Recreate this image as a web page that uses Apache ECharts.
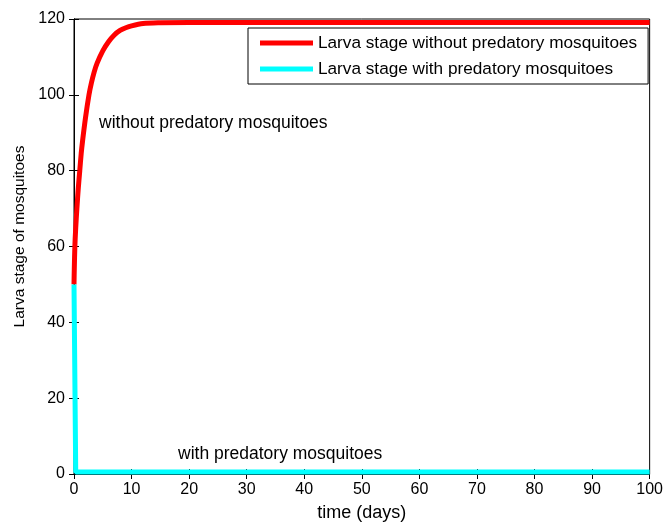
<!DOCTYPE html>
<html>
<head>
<meta charset="utf-8">
<script src="https://cdn.jsdelivr.net/npm/echarts@6/dist/echarts.min.js"></script>
<style>html,body{margin:0;padding:0;background:#fff;}#c{width:666px;height:527px;}</style>
</head>
<body>
<div id="c"></div>
<script>
var redT = [0, 0.05, 0.15, 0.3, 0.5, 0.75, 1, 1.25, 1.5, 2, 2.6, 3, 3.5, 4, 5, 6, 7, 8, 9, 10, 12, 15, 20, 30, 50, 100];
var redV = [50, 54, 60, 65, 70, 75.5, 80, 84.5, 88, 94, 100, 103, 106, 108.3, 111.6, 114, 115.8, 117, 117.7, 118.2, 118.8, 119, 119.1, 119.1, 119.1, 119.1];
var cyanT = [0, 0.3, 1, 5, 20, 50, 100];
var cyanV = [50, 0.5, 0.5, 0.5, 0.5, 0.5, 0.5];
var xTicks = [0, 10, 20, 30, 40, 50, 60, 70, 80, 90, 100];
var yTicks = [0, 20, 40, 60, 80, 100, 120];
var seriesNames = ['Larva stage without predatory mosquitoes', 'Larva stage with predatory mosquitoes'];

function pairs(t, v) { return t.map(function (x, i) { return [x, v[i]]; }); }
function ticks() { return { show: true, inside: true, length: 5, lineStyle: { color: '#000', width: 1 } }; }

var font = 'Liberation Sans, Arial, sans-serif';
var chart = echarts.init(document.getElementById('c'));
chart.setOption({
  animation: false,
  backgroundColor: '#fff',
  grid: { left: 74, right: 12, top: 19, bottom: 51, show: true, borderColor: '#000', borderWidth: 1, backgroundColor: 'transparent' },
  legend: {
    data: seriesNames,
    orient: 'vertical',
    left: 248, top: 28,
    padding: [6, 11, 6, 12],
    itemGap: 8,
    itemWidth: 53, itemHeight: 5,
    icon: 'rect',
    borderColor: '#000', borderWidth: 1,
    backgroundColor: '#fff',
    textStyle: { fontFamily: font, fontSize: 17.2, color: '#000', lineHeight: 18 }
  },
  xAxis: [{
    type: 'value', min: xTicks[0], max: xTicks[xTicks.length - 1], interval: 10,
    name: 'time (days)', nameLocation: 'middle', nameGap: 30,
    nameTextStyle: { fontFamily: font, fontSize: 18, color: '#000' },
    axisLine: { show: true, lineStyle: { color: '#000' } },
    axisTick: ticks(),
    axisLabel: { fontFamily: font, fontSize: 16, color: '#000', margin: 8 },
    splitLine: { show: false }
  }, {
    type: 'value', position: 'top', min: xTicks[0], max: xTicks[xTicks.length - 1], interval: 10,
    axisLine: { show: true, lineStyle: { color: '#000' } },
    axisTick: ticks(), axisLabel: { show: false }, splitLine: { show: false }
  }],
  yAxis: [{
    type: 'value', min: yTicks[0], max: yTicks[yTicks.length - 1], interval: 20,
    name: 'Larva stage of mosquitoes', nameLocation: 'middle', nameGap: 45,
    nameTextStyle: { fontFamily: font, fontSize: 15.5, color: '#000', padding: [0, 0, 0, 20] },
    axisLine: { show: true, lineStyle: { color: '#000' } },
    axisTick: ticks(),
    axisLabel: { fontFamily: font, fontSize: 16, color: '#000', margin: 9 },
    splitLine: { show: false }
  }, {
    type: 'value', position: 'right', min: yTicks[0], max: yTicks[yTicks.length - 1], interval: 20,
    axisLine: { show: true, lineStyle: { color: '#000' } },
    axisTick: ticks(), axisLabel: { show: false }, splitLine: { show: false }
  }],
  series: [{
    name: seriesNames[0], type: 'line', data: pairs(redT, redV),
    showSymbol: false, clip: false, smooth: 0.3,
    lineStyle: { color: '#ff0000', width: 5 }, itemStyle: { color: '#ff0000' }
  }, {
    name: seriesNames[1], type: 'line', data: pairs(cyanT, cyanV),
    showSymbol: false, clip: false,
    lineStyle: { color: '#00ffff', width: 5 }, itemStyle: { color: '#00ffff' }
  }],
  graphic: [
    { type: 'text', left: 99, top: 114, style: { text: 'without predatory mosquitoes', font: '17.5px ' + font, fill: '#000' } },
    { type: 'text', left: 178, top: 445, style: { text: 'with predatory mosquitoes', font: '17.5px ' + font, fill: '#000' } }
  ]
});
</script>
</body>
</html>
